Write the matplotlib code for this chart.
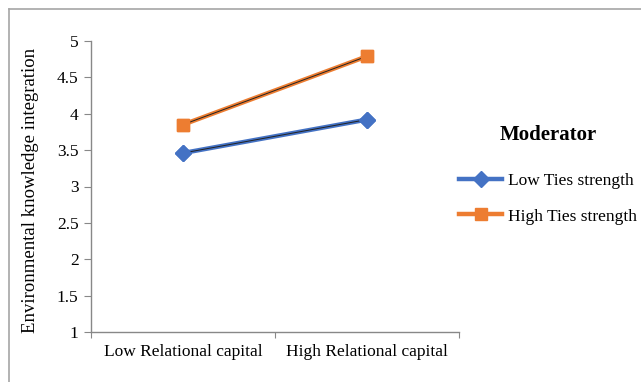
import matplotlib.pyplot as plt
from matplotlib.lines import Line2D

categories = ["Low Relational capital", "High Relational capital"]
low_ties = [3.46, 3.92]
high_ties = [3.85, 4.79]
y_ticks = [1, 1.5, 2, 2.5, 3, 3.5, 4, 4.5, 5]
y_labels = ["1", "1.5", "2", "2.5", "3", "3.5", "4", "4.5", "5"]

plt.rcParams['font.family'] = ['Liberation Serif', 'DejaVu Serif']

fig = plt.figure(figsize=(6.41, 3.82), dpi=100)
ax = fig.add_axes([91/641, 1 - 332/382, (459 - 91)/641, (332 - 41)/382])

# outer chart border (only top and left visible)
fig.add_artist(Line2D([9/641, 1], [1 - 9/382, 1 - 9/382], transform=fig.transFigure,
                      color='#a6a6a6', lw=1.2))
fig.add_artist(Line2D([9/641, 9/641], [0, 1 - 9/382], transform=fig.transFigure,
                      color='#a6a6a6', lw=1.2))

x = [0.5, 1.5]
blue = '#4472c4'
orange = '#ed7d31'
ax.plot(x, low_ties, color=blue, lw=3.2, marker='D', markersize=8,
        label="Low Ties strength", zorder=3)
ax.plot(x, low_ties, color='#222222', lw=0.7, zorder=4)
ax.plot(x, high_ties, color=orange, lw=3.2, marker='s', markersize=9,
        label="High Ties strength", zorder=3)
ax.plot(x, high_ties, color='#222222', lw=0.7, zorder=4)
# markers on top of the black centre line
ax.plot(x, low_ties, ls='none', marker='D', markersize=8, color=blue, zorder=5)
ax.plot(x, high_ties, ls='none', marker='s', markersize=9, color=orange, zorder=5)

ax.set_xlim(0, 2)
ax.set_ylim(1, 5)
ax.set_xticks([0, 1, 2])
ax.set_xticklabels([])
ax.set_xticks(x, minor=True)
ax.set_xticklabels(categories, minor=True, fontsize=12.5)
ax.tick_params(axis='x', which='minor', length=0, pad=9)
ax.tick_params(axis='x', which='major', length=4, color='#888888')
ax.set_yticks(y_ticks)
ax.set_yticklabels(y_labels, fontsize=12.5)
ax.tick_params(axis='y', length=5, color='#888888', pad=4)

for side in ['top', 'right']:
    ax.spines[side].set_visible(False)
for side in ['left', 'bottom']:
    ax.spines[side].set_color('#888888')
    ax.spines[side].set_linewidth(1.0)

fig.text(31/641, 1 - 190/382, "Environmental knowledge integration", rotation=90,
         ha='center', va='center', fontsize=13.5)

leg = ax.legend(loc='upper left', bbox_to_anchor=(1.0, 0.71), frameon=False,
                title="Moderator", fontsize=12.5, handlelength=2.5,
                handletextpad=0.3, labelspacing=1.1, borderaxespad=0,
                borderpad=0)
leg.get_title().set_fontweight('bold')
leg.get_title().set_fontsize(15)
leg._legend_box.sep = 20

fig.savefig('out.png', dpi=100)
